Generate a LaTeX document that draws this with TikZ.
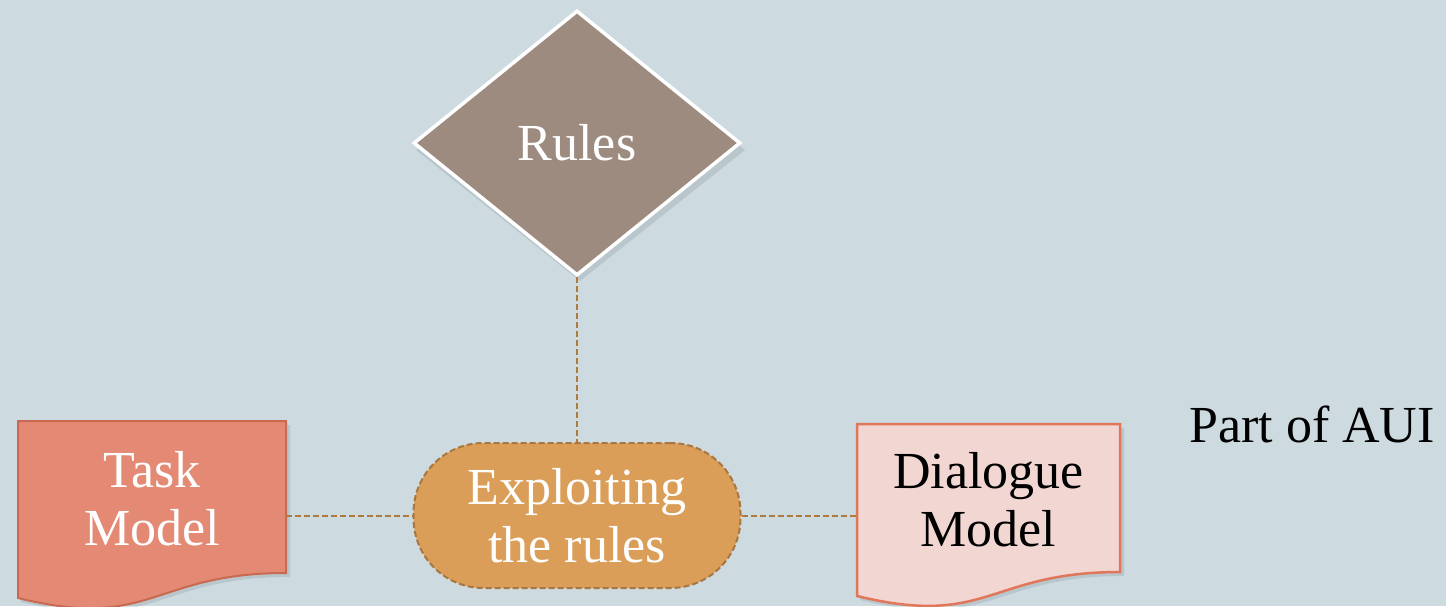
\documentclass[tikz,border=0pt]{standalone}
\usepackage{fontspec}
\setmainfont{Liberation Serif}
\usetikzlibrary{shapes.geometric}
\definecolor{bgc}{HTML}{CDDBE0}
\definecolor{rulesfill}{HTML}{9D8B80}
\definecolor{taskfill}{HTML}{E48A74}
\definecolor{taskline}{HTML}{C9694F}
\definecolor{dlgfill}{HTML}{F1D6D2}
\definecolor{dlgline}{HTML}{E0775A}
\definecolor{expfill}{HTML}{DB9E58}
\definecolor{expline}{HTML}{A87640}
\definecolor{conn}{HTML}{B07A3C}
\definecolor{shadowc}{HTML}{7F8F96}
\tikzset{
  bigtext/.style={font=\fontsize{52}{58}\selectfont, align=center, inner sep=0pt},
  rulesbox/.style={diamond, fill=rulesfill, draw=white, line width=3.5pt, minimum width=327pt, minimum height=265pt, inner sep=0pt, text=white, bigtext},
  expbox/.style={rectangle, rounded corners=70pt, fill=expfill, draw=expline, dash pattern=on 6pt off 3pt, line width=2pt, minimum width=327pt, minimum height=145pt, text=white, bigtext},
  docnode/.style={rectangle, minimum width=#1, inner sep=0pt, bigtext},
  connline/.style={draw=conn, dash pattern=on 6pt off 3pt, line width=2pt},
  shadowpath/.style={fill=shadowc, opacity=0.25},
}
\begin{document}
\begin{tikzpicture}[x=1pt,y=-1pt]
\fill[bgc] (0,0) rectangle (1446,606);
\useasboundingbox (0,0) rectangle (1446,606);

% shadows
\fill[shadowpath] (580,15) -- (745,150) -- (580,281) -- (416,150) -- cycle;
\fill[shadowpath] (21,425) -- (290,425) -- (290,577) .. controls (155,577) and (155,635) .. (21,602) -- cycle;
\fill[shadowpath] (860,428) -- (1124,428) -- (1124,576) .. controls (991.5,576) and (991.5,632) .. (860,600) -- cycle;

% Rules diamond
\node[rulesbox] (rules) at (577,143) {Rules};

% Exploiting
\node[expbox] (exp) at (577,515.5) {Exploiting\\the rules};

% Task Model document
\fill[taskfill, draw=taskline, line width=2pt] (18,421) -- (286,421) -- (286,573) .. controls (152,573) and (152,631) .. (18,598) -- cycle;
\node[docnode=268pt, minimum height=152pt, text=white] (task) at (152,499) {Task\\Model};

% Dialogue Model document
\fill[dlgfill, draw=dlgline, line width=2.5pt] (857,424) -- (1120,424) -- (1120,572) .. controls (988.5,572) and (988.5,628) .. (857,596) -- cycle;
\node[docnode=263pt, minimum height=148pt, text=black] (dlg) at (988.5,500) {Dialogue\\Model};

% Part of AUI
\node[bigtext, text=black, anchor=center] (aui) at (1312,424) {Part of AUI};

% connectors
\path[connline] (rules.south) -- (exp.north);
\path[connline] (task.east |- exp.west) -- (exp.west);
\path[connline] (exp.east) -- (dlg.west |- exp.east);
\end{tikzpicture}
\end{document}
